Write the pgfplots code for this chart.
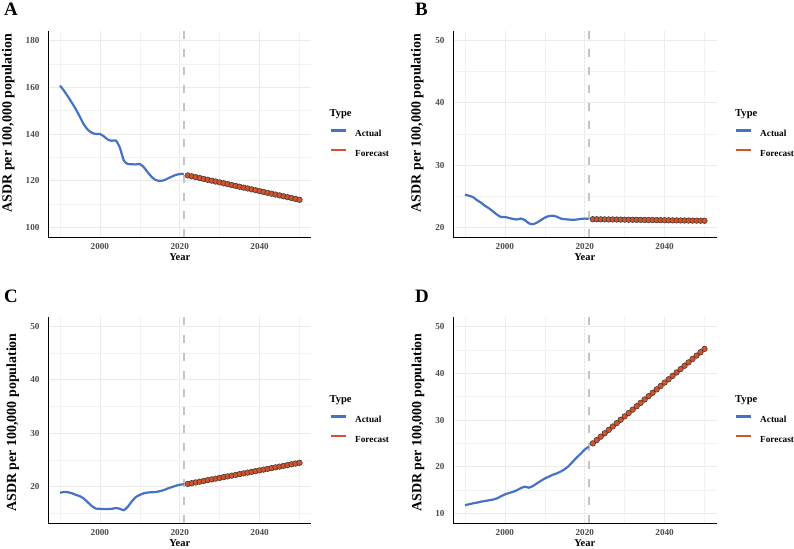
\documentclass[border=0pt]{standalone}
\usepackage{fontspec}
\setmainfont{Liberation Serif}
\usepackage{pgfplots}
\pgfplotsset{compat=1.18}

\definecolor{actualblue}{HTML}{4472C4}
\definecolor{fcred}{HTML}{D2542D}
\definecolor{gridmaj}{HTML}{EBEBEB}
\definecolor{gridmin}{HTML}{F2F2F2}
\definecolor{ticktext}{HTML}{4D4D4D}
\definecolor{vlinegrey}{HTML}{C4C4C4}

% ---------------- data ----------------
\pgfplotstableread{
year val
1990 160.7
1991 158.5
1992 156.0
1993 153.3
1994 150.5
1995 147.3
1996 144.0
1997 141.8
1998 140.5
1999 140.0
2000 140.0
2001 139.0
2002 137.6
2003 137.1
2004 137.2
2005 134.2
2006 128.6
2007 127.2
2008 127.1
2009 127.0
2010 127.2
2011 125.8
2012 123.6
2013 121.6
2014 120.3
2015 120.0
2016 120.2
2017 121.0
2018 121.8
2019 122.5
2020 122.9
2021 123.0
}\actA
\pgfplotstableread{
year val
2022 122.30
2023 121.93
2024 121.56
2025 121.19
2026 120.81
2027 120.44
2028 120.07
2029 119.70
2030 119.33
2031 118.96
2032 118.59
2033 118.21
2034 117.84
2035 117.47
2036 117.10
2037 116.73
2038 116.36
2039 115.99
2040 115.61
2041 115.24
2042 114.87
2043 114.50
2044 114.13
2045 113.76
2046 113.39
2047 113.01
2048 112.64
2049 112.27
2050 111.90
}\fcA
\pgfplotstableread{
year val
1990 25.3
1991 25.1
1992 24.9
1993 24.4
1994 24.0
1995 23.5
1996 23.1
1997 22.6
1998 22.1
1999 21.7
2000 21.7
2001 21.55
2002 21.4
2003 21.3
2004 21.45
2005 21.2
2006 20.7
2007 20.55
2008 20.8
2009 21.2
2010 21.6
2011 21.85
2012 21.9
2013 21.75
2014 21.45
2015 21.35
2016 21.3
2017 21.25
2018 21.3
2019 21.4
2020 21.45
2021 21.4
}\actB
\pgfplotstableread{
year val
2022 21.35
2023 21.34
2024 21.33
2025 21.32
2026 21.31
2027 21.31
2028 21.30
2029 21.29
2030 21.28
2031 21.27
2032 21.26
2033 21.25
2034 21.24
2035 21.23
2036 21.22
2037 21.22
2038 21.21
2039 21.20
2040 21.19
2041 21.18
2042 21.17
2043 21.16
2044 21.15
2045 21.14
2046 21.14
2047 21.13
2048 21.12
2049 21.11
2050 21.10
}\fcB
\pgfplotstableread{
year val
1990 18.9
1991 19.05
1992 19.0
1993 18.8
1994 18.5
1995 18.25
1996 17.8
1997 17.1
1998 16.4
1999 15.95
2000 15.9
2001 15.85
2002 15.85
2003 15.9
2004 16.05
2005 15.9
2006 15.65
2007 16.3
2008 17.3
2009 18.1
2010 18.5
2011 18.8
2012 18.95
2013 19.0
2014 19.05
2015 19.2
2016 19.4
2017 19.7
2018 19.95
2019 20.2
2020 20.4
2021 20.5
}\actC
\pgfplotstableread{
year val
2022 20.55
2023 20.69
2024 20.83
2025 20.97
2026 21.11
2027 21.26
2028 21.40
2029 21.54
2030 21.68
2031 21.82
2032 21.96
2033 22.10
2034 22.24
2035 22.38
2036 22.52
2037 22.67
2038 22.81
2039 22.95
2040 23.09
2041 23.23
2042 23.37
2043 23.51
2044 23.65
2045 23.79
2046 23.93
2047 24.08
2048 24.22
2049 24.36
2050 24.50
}\fcC
\pgfplotstableread{
year val
1990 11.8
1991 12.0
1992 12.2
1993 12.35
1994 12.55
1995 12.7
1996 12.85
1997 13.0
1998 13.25
1999 13.7
2000 14.1
2001 14.4
2002 14.65
2003 15.0
2004 15.45
2005 15.75
2006 15.55
2007 15.9
2008 16.45
2009 17.0
2010 17.5
2011 17.9
2012 18.3
2013 18.6
2014 19.0
2015 19.5
2016 20.2
2017 21.1
2018 22.0
2019 22.8
2020 23.7
2021 24.3
}\actD
\pgfplotstableread{
year val
2022 25.00
2023 25.72
2024 26.44
2025 27.16
2026 27.89
2027 28.61
2028 29.33
2029 30.05
2030 30.77
2031 31.49
2032 32.21
2033 32.94
2034 33.66
2035 34.38
2036 35.10
2037 35.82
2038 36.54
2039 37.26
2040 37.99
2041 38.71
2042 39.43
2043 40.15
2044 40.87
2045 41.59
2046 42.31
2047 43.04
2048 43.76
2049 44.48
2050 45.20
}\fcD

% ---------------- styles ----------------
\pgfplotsset{
  panel/.style={
    scale only axis, width=263.5bp, height=206bp,
    xmin=1987, xmax=2053,
    xtick={2000,2020,2040}, minor xtick={1990,2010,2030,2050},
    axis x line*=bottom, axis y line*=left,
    axis line style={-, black, line width=0.9bp},
    major tick length=0pt, minor tick length=0pt,
    tick style={draw=none},
    grid=both,
    major grid style={gridmaj, line width=0.8bp},
    minor grid style={gridmin, line width=0.5bp},
    /pgf/number format/assume math mode=true,
    /pgf/number format/1000 sep={},
    ticklabel style={font=\fontsize{9.2}{11}\selectfont\bfseries, text=ticktext},
    xticklabel style={yshift=-2.5bp},
    yticklabel style={xshift=-5bp},
    xlabel={Year},
    xlabel style={font=\fontsize{10.5}{12}\selectfont\bfseries,
      at={(axis description cs:0.5,-0.0985)}, anchor=center},
    ylabel={ASDR per 100,000 population},
    legend cell align=left,
    legend image code/.code={\draw[##1] (0bp,3.1bp) -- (15bp,3.1bp);},
    legend style={at={(axis description cs:1.0702,0.5228)}, anchor=north west,
      draw=none, fill=none, inner sep=0pt, outer sep=0pt,
      row sep=11.8bp, column sep=8bp,
      font=\fontsize{9.3}{11}\selectfont\bfseries,
      nodes={inner sep=0pt, text height=6.5bp, text depth=0bp}},
  },
  ylab/.style={ylabel style={font=\fontsize{14}{16}\selectfont\bfseries,
      at={(axis description cs:#1)}, anchor=center}},
  actual/.style={actualblue, line width=2.2bp, smooth, tension=0.4, forget plot},
  forecast/.style={fcred, line width=2bp, mark=*, mark size=2.8bp,
      mark options={fill=fcred, draw=black!80, line width=0.5bp}, forget plot},
  cutoff/.style={vlinegrey, line width=2bp, dash pattern=on 8bp off 10bp, forget plot},
}

\newcommand{\legendentries}{%
  \addlegendimage{actualblue, line width=2.2bp}
  \addlegendentry{Actual}
  \addlegendimage{fcred, line width=2.2bp}
  \addlegendentry{Forecast}
}
\tikzset{legtitle/.style={anchor=base west, inner sep=0pt,
  font=\fontsize{10.6}{12}\selectfont\bfseries}}
\tikzset{tag/.style={anchor=base west, inner sep=0pt,
  font=\fontsize{19}{21}\selectfont\bfseries}}

\begin{document}
\begin{tikzpicture}
\path[use as bounding box] (0,0) rectangle (794bp,549bp);

% Panel A
\begin{axis}[panel, at={(48bp,312bp)}, anchor=south west,
  ymin=96, ymax=184, ytick={100,120,140,160,180}, minor ytick={110,130,150,170},
  ylab={-0.1507,0.553}]
  \addplot[cutoff] coordinates {(2021,96) (2021,184)};
  \addplot[actual] table[x=year,y=val] {\actA};
  \addplot[forecast] table[x=year,y=val] {\fcA};
  \legendentries
\end{axis}

% Panel B
\begin{axis}[panel, at={(453bp,312bp)}, anchor=south west,
  ymin=18.5, ymax=51.5, ytick={20,30,40,50}, minor ytick={25,35,45},
  ylab={-0.1352,0.553}]
  \addplot[cutoff] coordinates {(2021,18.5) (2021,51.5)};
  \addplot[actual] table[x=year,y=val] {\actB};
  \addplot[forecast] table[x=year,y=val] {\fcB};
  \legendentries
\end{axis}

% Panel C
\begin{axis}[panel, at={(48bp,26bp)}, anchor=south west,
  ymin=13.25, ymax=51.75, ytick={20,30,40,50}, minor ytick={15,25,35,45},
  ylab={-0.134,0.488}]
  \addplot[cutoff] coordinates {(2021,13.25) (2021,51.75)};
  \addplot[actual] table[x=year,y=val] {\actC};
  \addplot[forecast] table[x=year,y=val] {\fcC};
  \legendentries
\end{axis}

% Panel D
\begin{axis}[panel, at={(453bp,26bp)}, anchor=south west,
  ymin=8, ymax=52, ytick={10,20,30,40,50}, minor ytick={15,25,35,45},
  ylab={-0.133,0.488}]
  \addplot[cutoff] coordinates {(2021,8) (2021,52)};
  \addplot[actual] table[x=year,y=val] {\actD};
  \addplot[forecast] table[x=year,y=val] {\fcD};
  \legendentries
\end{axis}

% Legend titles
\node[legtitle] at (329.3bp,432.7bp) {Type};
\node[legtitle] at (735bp,432.7bp) {Type};
\node[legtitle] at (329.3bp,146.7bp) {Type};
\node[legtitle] at (735bp,146.7bp) {Type};

% Panel tags
\node[tag] at (4bp,533bp) {A};
\node[tag] at (415bp,533bp) {B};
\node[tag] at (4bp,246.5bp) {C};
\node[tag] at (415bp,246.5bp) {D};
\end{tikzpicture}
\end{document}
